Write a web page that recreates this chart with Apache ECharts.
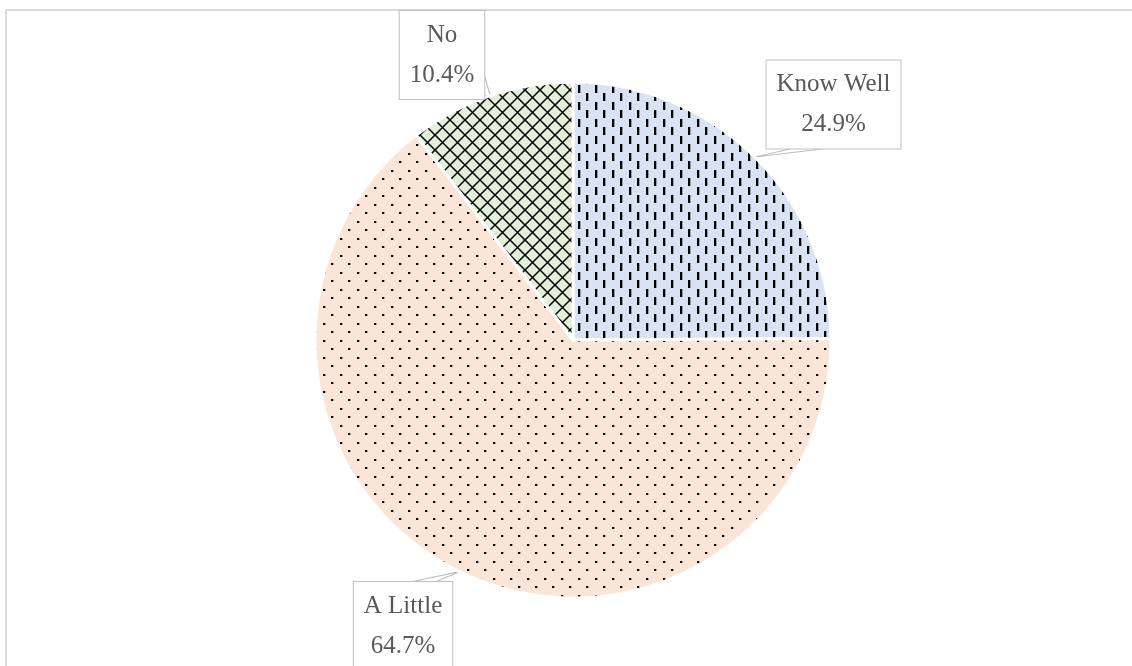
<!DOCTYPE html>
<html>
<head>
<meta charset="utf-8">
<style>
  html, body { margin: 0; padding: 0; background: #ffffff; }
  #chart { width: 1132px; height: 666px; }
</style>
<script src="https://cdn.jsdelivr.net/npm/echarts@6/dist/echarts.min.js"></script>
</head>
<body>
<div id="chart"></div>
<script>
// Survey answers and their shares (%)
const categories = ['Know Well', 'A Little', 'No'];
const shares = [24.9, 64.7, 10.4];

// Fill tiles: pale background with a black hatch drawn on top
function makeTile(size, bg, draw) {
  const c = document.createElement('canvas');
  c.width = size; c.height = size;
  const g = c.getContext('2d');
  g.fillStyle = bg;
  g.fillRect(0, 0, size, size);
  draw(g, size);
  return c;
}
const dashTile = makeTile(17, '#dae3f3', g => {
  g.fillStyle = '#000';
  g.fillRect(0, 0, 2, 8);
  g.fillRect(8, 8, 2, 8);
  g.fillStyle = 'rgba(0,0,0,0.3)';
  g.fillRect(2, 0, 1, 8);
  g.fillRect(10, 8, 1, 8);
});
const dotTile = makeTile(17, '#fbe5d6', g => {
  g.fillStyle = '#000';
  g.fillRect(0, 0, 2, 2);
  g.fillRect(8, 8, 2, 2);
  g.fillStyle = 'rgba(0,0,0,0.3)';
  g.fillRect(2, 0, 1, 2);
  g.fillRect(10, 8, 1, 2);
});
const crossTile = makeTile(15, '#e2f0d9', (g, s) => {
  g.strokeStyle = '#000';
  g.lineWidth = 1.5;
  g.beginPath();
  for (const o of [-s, 0, s]) {
    g.moveTo(o, 0); g.lineTo(o + s, s);
    g.moveTo(o + s, 0); g.lineTo(o, s);
  }
  g.stroke();
});
const fills = [dashTile, dotTile, crossTile];

// Callout box centres and where each pointer leaves its box
const callouts = [
  { x: 833.5, y: 104.5, base: [[790, 149], [822, 149]] },
  { x: 403, y: 626, base: [[410, 582], [435, 582]] },
  { x: 442, y: 55, base: [[484, 74], [484, 96]] }
];

const chart = echarts.init(document.getElementById('chart'), null, { renderer: 'canvas' });
chart.setOption({
  animation: false,
  backgroundColor: '#ffffff',
  graphic: [{
    type: 'rect',
    silent: true,
    shape: { x: 6, y: 10, width: 1200, height: 700 },
    style: { fill: 'none', stroke: '#d9d9d9', lineWidth: 2 }
  }],
  series: [{
    type: 'pie',
    center: [573, 340],
    radius: 258,
    startAngle: 90,
    clockwise: true,
    avoidLabelOverlap: false,
    data: categories.map((name, i) => ({
      name,
      value: shares[i],
      itemStyle: { color: { image: fills[i], repeat: 'repeat' } }
    })),
    itemStyle: { borderColor: '#ffffff', borderWidth: 3 },
    label: {
      show: true,
      position: 'outside',
      formatter: p => p.name + '\n' + p.value.toFixed(1) + '%',
      fontFamily: 'Liberation Serif',
      fontSize: 25,
      lineHeight: 40,
      color: '#595959',
      backgroundColor: '#ffffff',
      borderColor: '#bfbfbf',
      borderWidth: 1,
      padding: [4, 10],
      align: 'center'
    },
    labelLine: {
      show: true,
      lineStyle: { color: '#bfbfbf', width: 1.2 }
    },
    labelLayout: params => {
      const c = callouts[params.dataIndex];
      const tip = params.labelLinePoints ? params.labelLinePoints[0] : null;
      const out = { x: c.x, y: c.y, align: 'center', verticalAlign: 'middle' };
      if (tip) out.labelLinePoints = [c.base[0], tip, c.base[1]];
      return out;
    },
    emphasis: { disabled: true }
  }]
});
</script>
</body>
</html>
